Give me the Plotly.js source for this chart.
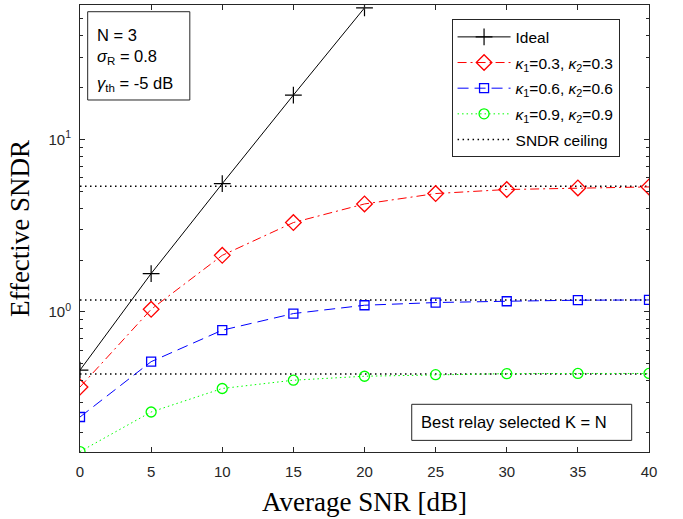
<!DOCTYPE html>
<html>
<head>
<meta charset="utf-8">
<script src="https://cdn.plot.ly/plotly-3.0.1.min.js"></script>
<style>html,body{margin:0;padding:0;background:#fff;}#chart{width:683px;height:519px;}</style>
</head>
<body>
<div id="chart"></div>
<script>
// ---- data ----
const snrDb = [0, 5, 10, 15, 20, 25, 30, 35, 40];
const idealSnr = [0, 5, 10, 15, 20];
const idealVals = [0.46, 1.67, 5.55, 18.1, 58];
const k03Vals = [0.367, 1.036, 2.13, 3.30, 4.23, 4.86, 5.13, 5.24, 5.31];
const k06Vals = [0.246, 0.515, 0.784, 0.979, 1.094, 1.134, 1.154, 1.17, 1.174];
const k09Vals = [0.155, 0.263, 0.36, 0.402, 0.424, 0.433, 0.439, 0.44, 0.44];
const ceilingVals = [5.36, 1.174, 0.437];
const ceilingX = [0, 40];
const yTickVals = [1, 10];
const yTickText = ['10<sup>0</sup>', '10<sup>1</sup>'];
const yMinorVals = [0.2,0.3,0.4,0.5,0.6,0.7,0.8,0.9,2,3,4,5,6,7,8,9,20,30,40,50,60];
const legendNames = ['Ideal',
  '<i>κ</i><sub>1</sub>=0.3, <i>κ</i><sub>2</sub>=0.3',
  '<i>κ</i><sub>1</sub>=0.6, <i>κ</i><sub>2</sub>=0.6',
  '<i>κ</i><sub>1</sub>=0.9, <i>κ</i><sub>2</sub>=0.9',
  'SNDR ceiling'];
const infoLines = ['N = 3', '<i>σ</i><sub>R</sub> = 0.8', '<i>γ</i><sub>th</sub> = -5 dB'];
const noteText = 'Best relay selected K = N';

// ---- traces ----
const traces = [];
ceilingVals.forEach((c, i) => {
  traces.push({
    x: ceilingX, y: [c, c], mode: 'lines', type: 'scatter',
    line: {color: '#000', width: 1.5, dash: '1.5px,3.5px'},
    name: legendNames[4], legendgroup: 'g5', showlegend: i === 0, legendrank: 5
  });
});
traces.push({
  x: idealSnr, y: idealVals, mode: 'lines+markers', type: 'scatter',
  line: {color: '#000', width: 1},
  marker: {symbol: 'cross-thin', size: 12, line: {color: '#000', width: 1.2}},
  name: legendNames[0], legendgroup: 'g1', legendrank: 1
});
traces.push({
  x: snrDb, y: k03Vals, mode: 'lines+markers', type: 'scatter',
  line: {color: '#ff0000', width: 1, dash: '9px,4px,2px,4px'},
  marker: {symbol: 'diamond-open', size: 12, color: '#ff0000', line: {color: '#ff0000', width: 1.3}},
  name: legendNames[1], legendgroup: 'g2', legendrank: 2
});
traces.push({
  x: snrDb, y: k06Vals, mode: 'lines+markers', type: 'scatter',
  line: {color: '#0000ff', width: 1, dash: '11px,6px'},
  marker: {symbol: 'square-open', size: 9, color: '#0000ff', line: {color: '#0000ff', width: 1.3}},
  name: legendNames[2], legendgroup: 'g3', legendrank: 3
});
traces.push({
  x: snrDb, y: k09Vals, mode: 'lines+markers', type: 'scatter',
  line: {color: '#00ff00', width: 1, dash: '1.5px,3px'},
  marker: {symbol: 'circle-open', size: 10, color: '#00ff00', line: {color: '#00ff00', width: 1.3}},
  name: legendNames[3], legendgroup: 'g4', legendrank: 4
});

const axisCommon = {
  showline: true, linecolor: '#262626', linewidth: 1, mirror: 'ticks',
  ticks: 'inside', ticklen: 5, tickcolor: '#262626', tickwidth: 1,
  showgrid: false, zeroline: false,
  tickfont: {family: 'Liberation Sans, Arial, sans-serif', size: 15, color: '#262626'}
};

const annotations = [];
const infoY = [0.932, 0.883, 0.824];
infoLines.forEach((t, i) => {
  annotations.push({xref: 'paper', yref: 'paper', x: 0.027, y: infoY[i], xanchor: 'left', yanchor: 'middle',
    text: t, showarrow: false, font: {family: 'Liberation Sans, Arial, sans-serif', size: 16.5, color: '#000'}});
});
annotations.push({xref: 'paper', yref: 'paper', x: 0.595, y: 0.066, xanchor: 'left', yanchor: 'middle',
  text: noteText, showarrow: false, font: {family: 'Liberation Sans, Arial, sans-serif', size: 16.5, color: '#000'}});

const layout = {
  width: 683, height: 519,
  margin: {l: 80, r: 34, t: 5, b: 67},
  paper_bgcolor: '#fff', plot_bgcolor: '#fff',
  showlegend: true,
  legend: {
    x: 0.653, y: 0.968, xanchor: 'left', yanchor: 'top',
    bgcolor: '#fff', bordercolor: '#262626', borderwidth: 1,
    font: {family: 'Liberation Sans, Arial, sans-serif', size: 15.5, color: '#000'},
    traceorder: 'grouped', tracegroupgap: 2.5, itemwidth: 53
  },
  xaxis: Object.assign({}, axisCommon, {
    range: [0, 40], tickmode: 'array', tickvals: snrDb, ticklabelstandoff: 6,
    title: {text: 'Average SNR [dB]', standoff: 13,
      font: {family: 'Liberation Serif, Times New Roman, serif', size: 27, color: '#000'}}
  }),
  yaxis: Object.assign({}, axisCommon, {
    type: 'log', range: [-0.812, 1.780], tickmode: 'array', tickvals: yTickVals, ticktext: yTickText,
    ticklabelstandoff: 5,
    minor: {tickmode: 'array', tickvals: yMinorVals, ticks: 'inside', ticklen: 3, tickcolor: '#262626', showgrid: false},
    title: {text: 'Effective SNDR', standoff: 11,
      font: {family: 'Liberation Serif, Times New Roman, serif', size: 27, color: '#000'}}
  }),
  shapes: [
    {type: 'rect', xref: 'paper', yref: 'paper', x0: 0.0135, x1: 0.193, y0: 0.7875, y1: 0.985,
      line: {color: '#262626', width: 1}, fillcolor: 'rgba(255,255,255,1)', layer: 'above'},
    {type: 'rect', xref: 'paper', yref: 'paper', x0: 0.583, x1: 0.9696, y0: 0.026, y1: 0.1067,
      line: {color: '#262626', width: 1}, fillcolor: 'rgba(255,255,255,1)', layer: 'above'}
  ],
  annotations: annotations
};

Plotly.newPlot('chart', traces, layout, {displayModeBar: false, staticPlot: true});
</script>
</body>
</html>
